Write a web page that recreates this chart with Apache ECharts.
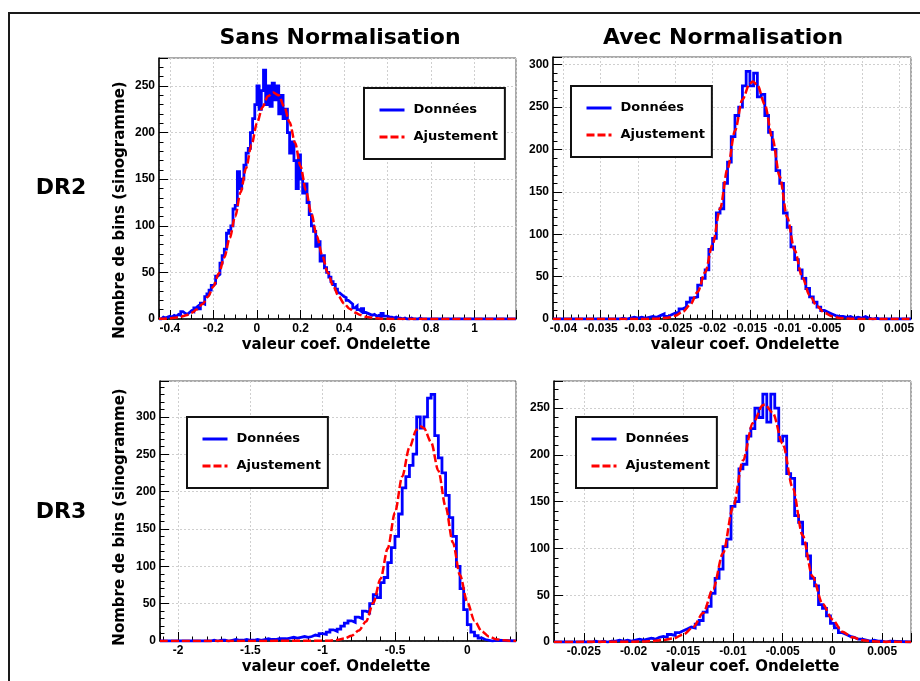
<!DOCTYPE html>
<html>
<head>
<meta charset="utf-8">
<script src="https://cdn.jsdelivr.net/npm/echarts@6/dist/echarts.min.js"></script>
<style>
  html, body { margin: 0; padding: 0; background: #fff; }
  #main { width: 920px; height: 681px; }
</style>
</head>
<body>
<div id="main"></div>
<script>
// --- histogram data (bin start, bin width, counts) ---
// DR2, sans normalisation
const p1Lo = -0.44, p1Bin = 0.01;
const p1Counts = [2,1,2,3,2,4,3,5,4,8, 6,5,7,9,8,12,14,11,17,16,
  24,27,31,36,38,46,48,60,68,75, 92,95,100,118,122,158,140,150,165,178,
  183,200,215,230,250,225,245,267,230,250, 228,253,235,250,220,240,215,225,200,178,
  190,170,140,176,150,135,145,125,112,100, 94,78,83,62,68,55,50,45,40,37,
  32,28,26,24,23,20,18,16,12,14, 10,8,11,7,6,5,4,5,3,4,
  2,6,3,3,2,2,1,2,1,1, 0,1,0,0,1,0,0,0,1,0, 0,0,0,0];
const p1FitX = [-0.45,-0.425,-0.4,-0.375,-0.35,-0.325,-0.3,-0.275,-0.25,-0.225,-0.2,-0.175,-0.15,-0.125,-0.1,-0.075,-0.05,-0.025,0,0.025,0.05,0.075,0.1,0.125,0.15,0.175,0.2,0.225,0.25,0.275,0.3,0.325,0.35,0.375,0.4,0.425,0.45,0.475,0.5,0.525,0.55,0.575,0.6,0.65,1.19];
const p1FitY = [0.2,0.4,0.8,1.4,2.4,4,6.6,10.5,16,24,35,49,66,87,110,136,162,187,210,227,239,243,240,228,211,189,164,138,113,89,68,50,35.5,24.5,16.7,11,6.9,4.2,2.5,1.5,0.8,0.4,0.2,0,0];

// DR2, avec normalisation
const p2Lo = -0.0325, p2Bin = 0.0005;
const p2Counts = [1,0,1,2,1,2,1,2,3,2, 4,6,3,5,7,8,12,14,20,25,
  26,40,48,58,82,95,125,130,160,185, 215,240,250,275,292,275,290,262,265,240,
  220,200,175,160,125,108,85,70,58,48, 36,26,20,14,10,8,6,4,3,3,
  2,3,1,2,1,3,1,0,1,0];
const p2FitX = [-0.0414,-0.031,-0.03,-0.029,-0.028,-0.027,-0.026,-0.025,-0.024,-0.023,-0.022,-0.021,-0.02,-0.019,-0.018,-0.017,-0.016,-0.015,-0.0146,-0.014,-0.013,-0.012,-0.011,-0.01,-0.009,-0.008,-0.007,-0.006,-0.005,-0.004,-0.003,-0.002,-0.001,0,0.0066];
const p2FitY = [0,0,0.02,0.07,0.2,0.6,1.6,3.8,8.5,17,32,55,88,130,177,222,259,278,280,276,253,214,168,120,81,50,28,15,7.3,3.2,1.3,0.5,0.2,0.05,0];

// DR3, sans normalisation
const p3Lo = -1.8, p3Bin = 0.025;
const p3Counts = [0,1,0,1,1,0,1,2,1,1,2,1, 1,2,1,2,3,2,2,3, 3,3,4,5,4,5,6,5,
  6,8,7,10, 9,12,15,13, 16,20,24,27, 25,32,30,40, 38,50,62,58, 78,85,105,125,
  140,170,205,220, 235,250,300,285, 300,325,330,275, 245,225,195,165,
  140,100,70,42, 22,12,7,4, 2,1,0,1];
const p3FitX = [-2.125,-1.0,-0.95,-0.9,-0.85,-0.8,-0.75,-0.7,-0.65,-0.6,-0.55,-0.5,-0.45,-0.4,-0.35,-0.32,-0.3,-0.25,-0.2,-0.15,-0.1,-0.05,0,0.05,0.1,0.15,0.2,0.25,0.3,0.337];
const p3FitY = [0,0.2,0.5,1.4,3.4,7,14,26,51,83,124,172,220,259,283,287,285,266,228,180,132,88,52,27,13,6,2.5,1,0.3,0.1];

// DR3, avec normalisation
const p4Lo = -0.0242, p4Bin = 0.0004;
const p4Counts = [1,0,1,0,1,1,2,1,2,1, 2,3,2,3,4,3,5,6,5,8,
  7,10,12,14,16,15,19,23,32,38, 52,68,78,102,110,145,150,185,190,220,
  228,250,240,265,235,265,250,215,220,180, 175,135,128,105,92,68,60,40,36,28,
  20,15,10,8,6,5,3,3,2,1, 2,1,1,0,1];
const p4FitX = [-0.028,-0.02,-0.019,-0.018,-0.017,-0.016,-0.015,-0.014,-0.013,-0.012,-0.011,-0.01,-0.009,-0.008,-0.007,-0.0068,-0.006,-0.005,-0.004,-0.003,-0.002,-0.001,0,0.001,0.002,0.003,0.004,0.005,0.0079];
const p4FitY = [0,0.3,0.6,1.2,2.2,3.8,8,16,31,57,95,144,194,234,253,254,245,212,165,114,70,41,24,11,5,2,0.8,0.3,0];

const seriesNames = ['Données', 'Ajustement'];
const titleFont = 'DejaVu Sans';
const tickFont = 'Liberation Sans';

// build the step outline of a histogram
function steps(lo, bin, counts, xMin, xMax) {
  const pts = [[xMin, 0], [lo, 0]];
  counts.forEach((c, i) => {
    pts.push([lo + i * bin, c], [lo + (i + 1) * bin, c]);
  });
  pts.push([lo + counts.length * bin, 0], [xMax, 0]);
  return pts;
}

const panels = [
  { grid: { left: 159, top: 58, width: 357, height: 261 }, x: [-0.45, 1.19], xInt: 0.2, xMinor: 4, yMax: 280,
    lo: p1Lo, bin: p1Bin, counts: p1Counts, fitX: p1FitX, fitY: p1FitY, legend: { left: 364, top: 88 } },
  { grid: { left: 553, top: 57, width: 358, height: 262 }, x: [-0.0414, 0.0066], xInt: 0.005, xMinor: 5, yMax: 309,
    lo: p2Lo, bin: p2Bin, counts: p2Counts, fitX: p2FitX, fitY: p2FitY, legend: { left: 571, top: 86 } },
  { grid: { left: 160, top: 381, width: 356, height: 260 }, x: [-2.125, 0.337], xInt: 0.5, xMinor: 5, yMax: 348,
    lo: p3Lo, bin: p3Bin, counts: p3Counts, fitX: p3FitX, fitY: p3FitY, legend: { left: 187, top: 417 } },
  { grid: { left: 554, top: 381, width: 357, height: 261 }, x: [-0.028, 0.0079], xInt: 0.005, xMinor: 5, yMax: 279,
    lo: p4Lo, bin: p4Bin, counts: p4Counts, fitX: p4FitX, fitY: p4FitY, legend: { left: 576, top: 417 } }
];

const labelStyle = { fontFamily: tickFont, fontWeight: 'bold', fontSize: 12, color: '#000', margin: 4 };
const gridLine = { show: true, lineStyle: { color: '#cfcfcf', type: [2, 2], width: 1 } };

function axisCommon(minorSplit) {
  return {
    type: 'value',
    axisLine: { onZero: false, lineStyle: { color: '#000', width: 1.5 } },
    axisTick: { inside: true, length: 9, lineStyle: { color: '#000', width: 1 } },
    minorTick: { show: true, splitNumber: minorSplit, length: 4.5, lineStyle: { color: '#000', width: 1 } },
    splitLine: gridLine
  };
}

const grids = [], xAxes = [], yAxes = [], series = [], legends = [];
panels.forEach((p, i) => {
  grids.push(Object.assign({ show: true, borderColor: '#555', borderWidth: 1, backgroundColor: '#fff' }, p.grid));
  xAxes.push(Object.assign(axisCommon(p.xMinor), {
    gridIndex: i, min: p.x[0], max: p.x[1], minInterval: p.xInt, maxInterval: p.xInt,
    axisLabel: Object.assign({ showMinLabel: false, showMaxLabel: false }, labelStyle)
  }));
  yAxes.push(Object.assign(axisCommon(5), {
    gridIndex: i, min: 0, max: p.yMax, minInterval: 50, maxInterval: 50,
    axisLabel: Object.assign({ showMinLabel: true, showMaxLabel: false }, labelStyle)
  }));
  series.push({
    name: seriesNames[0], type: 'line', xAxisIndex: i, yAxisIndex: i,
    data: steps(p.lo, p.bin, p.counts, p.x[0], p.x[1]),
    symbol: 'none', lineStyle: { color: '#0000ff', width: 2.8, join: 'miter' }, itemStyle: { color: '#0000ff' },
    animation: false, z: 2
  });
  series.push({
    name: seriesNames[1], type: 'line', xAxisIndex: i, yAxisIndex: i,
    data: p.fitX.map((x, k) => [x, p.fitY[k]]),
    symbol: 'none', smooth: 0.3, smoothMonotone: 'x',
    lineStyle: { color: '#ff0000', width: 2.5, type: [8, 3] }, itemStyle: { color: '#ff0000' },
    animation: false, z: 3
  });
  legends.push({
    data: seriesNames, orient: 'vertical', left: p.legend.left, top: p.legend.top,
    padding: [15.5, 7, 15.5, 14], itemGap: 14, itemWidth: 25, itemHeight: 14,
    borderColor: '#111', borderWidth: 2, backgroundColor: '#fff', selectedMode: false,
    lineStyle: { width: 3 },
    itemStyle: { color: 'rgba(0,0,0,0)', borderWidth: 0, opacity: 0 },
    textStyle: { fontFamily: titleFont, fontWeight: 'bold', fontSize: 13, color: '#000', padding: [0, 0, 0, 4] }
  });
});

function label(text, x, y, size, rot) {
  return {
    type: 'text', x: x, y: y, rotation: rot || 0, z: 10,
    style: { text: text, fill: '#000', font: 'bold ' + size + 'px "' + titleFont + '"', align: 'center', verticalAlign: 'middle' }
  };
}

const chart = echarts.init(document.getElementById('main'));
chart.setOption({
  animation: false,
  backgroundColor: '#fff',
  grid: grids,
  xAxis: xAxes,
  yAxis: yAxes,
  legend: legends,
  series: series,
  graphic: [
    { type: 'rect', shape: { x: 9, y: 13, width: 1000, height: 1000 }, style: { fill: 'none', stroke: '#1a1a1a', lineWidth: 2 }, z: 0 },
    label('Sans Normalisation', 340, 38, 22),
    label('Avec Normalisation', 723, 38, 22),
    label('DR2', 61, 188, 22),
    label('DR3', 61, 512, 22),
    label('Nombre de bins (sinogramme)', 120, 210, 15, Math.PI / 2),
    label('Nombre de bins (sinogramme)', 120, 517, 15, Math.PI / 2),
    label('valeur coef. Ondelette', 336, 345, 15),
    label('valeur coef. Ondelette', 745, 345, 15),
    label('valeur coef. Ondelette', 336, 667, 15),
    label('valeur coef. Ondelette', 745, 667, 15)
  ]
});
</script>
</body>
</html>
